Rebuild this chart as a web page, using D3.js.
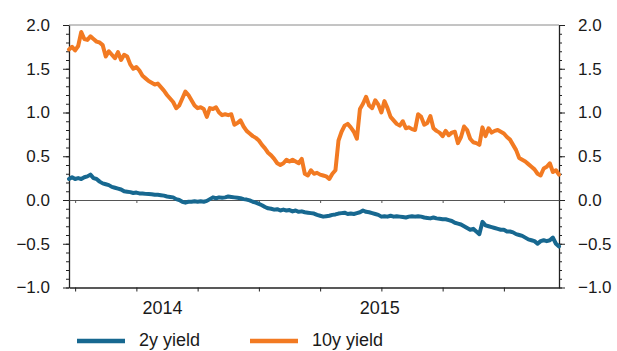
<!DOCTYPE html>
<html>
<head>
<meta charset="utf-8">
<script src="https://cdn.jsdelivr.net/npm/d3@7"></script>
<style>
  html, body { margin: 0; padding: 0; background: #fff; }
  svg { display: block; }
  text { font-family: "Liberation Sans", Arial, sans-serif; fill: #1a1a1a; }
</style>
</head>
<body>
<svg id="chart" width="617" height="351"></svg>
<script>
// Observation index along the time axis (0 .. 160)
const obsCount = 161;

// 10-year yield, %
const yield10y = [
  1.72, 1.75, 1.71, 1.76, 1.92, 1.84, 1.83, 1.87, 1.84, 1.81,
  1.80, 1.77, 1.64, 1.70, 1.66, 1.62, 1.69, 1.60, 1.66, 1.64,
  1.55, 1.50, 1.52, 1.48, 1.42, 1.39, 1.36, 1.34, 1.32, 1.33,
  1.29, 1.25, 1.20, 1.16, 1.12, 1.05, 1.08, 1.16, 1.24, 1.20,
  1.14, 1.08, 1.05, 1.06, 1.04, 0.95, 1.05, 1.04, 1.06, 1.00,
  0.97, 0.98, 0.97, 0.98, 0.86, 0.88, 0.91, 0.84, 0.79, 0.76,
  0.73, 0.71, 0.68, 0.63, 0.59, 0.54, 0.51, 0.47, 0.42, 0.40,
  0.42, 0.46, 0.44, 0.46, 0.44, 0.42, 0.47, 0.30, 0.28, 0.34,
  0.30, 0.31, 0.29, 0.28, 0.27, 0.24, 0.30, 0.34, 0.68, 0.78,
  0.85, 0.87, 0.83, 0.78, 0.70, 1.04, 1.10, 1.18, 1.08, 1.05,
  1.14, 1.09, 1.00, 1.13, 1.05, 0.95, 0.91, 0.87, 0.85, 0.90,
  0.82, 0.83, 0.81, 0.80, 0.98, 0.95, 0.86, 0.88, 0.96, 0.82,
  0.79, 0.77, 0.73, 0.79, 0.74, 0.77, 0.78, 0.65, 0.72, 0.84,
  0.80, 0.70, 0.66, 0.65, 0.63, 0.83, 0.73, 0.82, 0.77, 0.79,
  0.80, 0.78, 0.76, 0.72, 0.69, 0.63, 0.57, 0.48, 0.46, 0.44,
  0.41, 0.38, 0.35, 0.30, 0.28, 0.36, 0.38, 0.42, 0.32, 0.34,
  0.29
];

// 2-year yield, %
const yield2y = [
  0.24, 0.26, 0.24, 0.25, 0.24, 0.26, 0.27, 0.29, 0.25, 0.24,
  0.21, 0.19, 0.18, 0.17, 0.15, 0.14, 0.13, 0.12, 0.10, 0.095,
  0.09, 0.08, 0.085, 0.075, 0.075, 0.07, 0.068, 0.065, 0.06, 0.06,
  0.055, 0.05, 0.04, 0.035, 0.03, 0.01, 0.0, -0.02, -0.03, -0.02,
  -0.02, -0.015, -0.02, -0.015, -0.02, -0.01, 0.01, 0.03, 0.02, 0.03,
  0.025, 0.03, 0.04, 0.035, 0.03, 0.025, 0.02, 0.01, 0.005, -0.005,
  -0.02, -0.03, -0.045, -0.06, -0.08, -0.095, -0.10, -0.11, -0.105, -0.12,
  -0.11, -0.12, -0.115, -0.13, -0.12, -0.135, -0.13, -0.14, -0.145, -0.15,
  -0.155, -0.17, -0.18, -0.19, -0.185, -0.18, -0.17, -0.165, -0.155, -0.15,
  -0.145, -0.16, -0.155, -0.16, -0.15, -0.14, -0.12, -0.135, -0.14, -0.15,
  -0.16, -0.17, -0.19, -0.185, -0.19, -0.18, -0.19, -0.185, -0.19, -0.195,
  -0.20, -0.19, -0.185, -0.19, -0.185, -0.19, -0.20, -0.205, -0.21, -0.20,
  -0.21, -0.215, -0.22, -0.22, -0.23, -0.24, -0.26, -0.27, -0.28, -0.30,
  -0.32, -0.34, -0.33, -0.36, -0.39, -0.25, -0.29, -0.30, -0.31, -0.32,
  -0.33, -0.34, -0.34, -0.36, -0.36, -0.37, -0.39, -0.40, -0.41, -0.43,
  -0.45, -0.46, -0.47, -0.50, -0.47, -0.46, -0.47, -0.46, -0.43, -0.50,
  -0.53
];

// Time-axis tick marks (observation index) and year labels
const xTickIdx = [2, 22, 42, 62, 82, 102, 122, 142];
const yearLabels = ["2014", "2015"];
const yearLabelIdx = [30.5, 101.5];

// Value axis
const yMajorTicks = [-1.0, -0.5, 0.0, 0.5, 1.0, 1.5, 2.0];
const yMinorTicks = d3.range(-10, 21).map(d => d / 10);

const seriesNames = ["2y yield", "10y yield"];
const seriesColors = ["#176890", "#f27a22"];

const svg = d3.select("#chart");
const plotLeft = 69, plotRight = 559, plotTop = 25, plotBottom = 287.5;

const x = d3.scaleLinear().domain([0, obsCount - 1]).range([plotLeft, plotRight]);
const y = d3.scaleLinear().domain([-1, 2]).range([plotBottom, plotTop]);

const axisColor = "#222";

// Top frame line
svg.append("line")
  .attr("x1", plotLeft).attr("x2", plotRight)
  .attr("y1", plotTop).attr("y2", plotTop)
  .attr("stroke", "#8a8a8a").attr("stroke-width", 1);

// Minor ticks on both value axes
svg.append("g").attr("transform", `translate(${plotLeft},0)`)
  .call(d3.axisLeft(y).tickValues(yMinorTicks).tickSize(3).tickFormat(""))
  .call(g => g.select(".domain").remove());
svg.append("g").attr("transform", `translate(${plotRight},0)`)
  .call(d3.axisRight(y).tickValues(yMinorTicks).tickSize(3).tickFormat(""))
  .call(g => g.select(".domain").remove());

// Left and right value axes
const gL = svg.append("g").attr("transform", `translate(${plotLeft},0)`)
  .call(d3.axisLeft(y).tickValues(yMajorTicks).tickSize(6).tickSizeOuter(0).tickPadding(13)
    .tickFormat(d3.format(".1f")));
const gR = svg.append("g").attr("transform", `translate(${plotRight},0)`)
  .call(d3.axisRight(y).tickValues(yMajorTicks).tickSize(6).tickSizeOuter(0).tickPadding(13)
    .tickFormat(d3.format(".1f")));

[gL, gR].forEach(g => {
  g.select(".domain").attr("stroke", axisColor).attr("stroke-width", 1.3);
  g.selectAll(".tick text")
    .attr("font-size", 17)
    .attr("font-family", "Liberation Sans, Arial, sans-serif")
    .attr("fill", "#1a1a1a");
});
svg.selectAll(".tick line").attr("stroke", axisColor);

// Bottom time axis
const gB = svg.append("g").attr("transform", `translate(0,${plotBottom})`)
  .call(d3.axisBottom(x).tickValues(xTickIdx).tickSize(4).tickFormat("").tickSizeOuter(0));
gB.select(".domain").attr("stroke", axisColor).attr("stroke-width", 1.3);
gB.selectAll(".tick line").attr("stroke", axisColor);

// Zero line with the same tick marks
const gZ = svg.append("g").attr("transform", `translate(0,${y(0)})`)
  .call(d3.axisBottom(x).tickValues(xTickIdx).tickSize(3).tickFormat("").tickSizeOuter(0));
gZ.select(".domain").attr("stroke", "#555").attr("stroke-width", 1.2);
gZ.selectAll(".tick line").attr("stroke", "#555");

// Year labels
svg.append("g").selectAll("text")
  .data(yearLabels)
  .join("text")
  .attr("x", (d, i) => x(yearLabelIdx[i]))
  .attr("y", 314)
  .attr("text-anchor", "middle")
  .attr("font-size", 18)
  .text(d => d);

// Series lines
const line = d3.line()
  .x((d, i) => x(i))
  .y(d => y(d))
  .curve(d3.curveLinear);

[yield2y, yield10y].forEach((vals, k) => {
  svg.append("path")
    .datum(vals)
    .attr("fill", "none")
    .attr("stroke", seriesColors[k])
    .attr("stroke-width", 4)
    .attr("stroke-linejoin", "round")
    .attr("stroke-linecap", "round")
    .attr("d", line);
});

// Legend
const legendX = [77, 250];
const lg = svg.append("g").selectAll("g")
  .data(seriesNames)
  .join("g")
  .attr("transform", (d, i) => `translate(${legendX[i]},341)`);
lg.append("line")
  .attr("x1", 0).attr("x2", 48)
  .attr("y1", 0).attr("y2", 0)
  .attr("stroke", (d, i) => seriesColors[i])
  .attr("stroke-width", 4.5);
lg.append("text")
  .attr("x", 62).attr("y", 5)
  .attr("font-size", 18)
  .text(d => d);
</script>
</body>
</html>
